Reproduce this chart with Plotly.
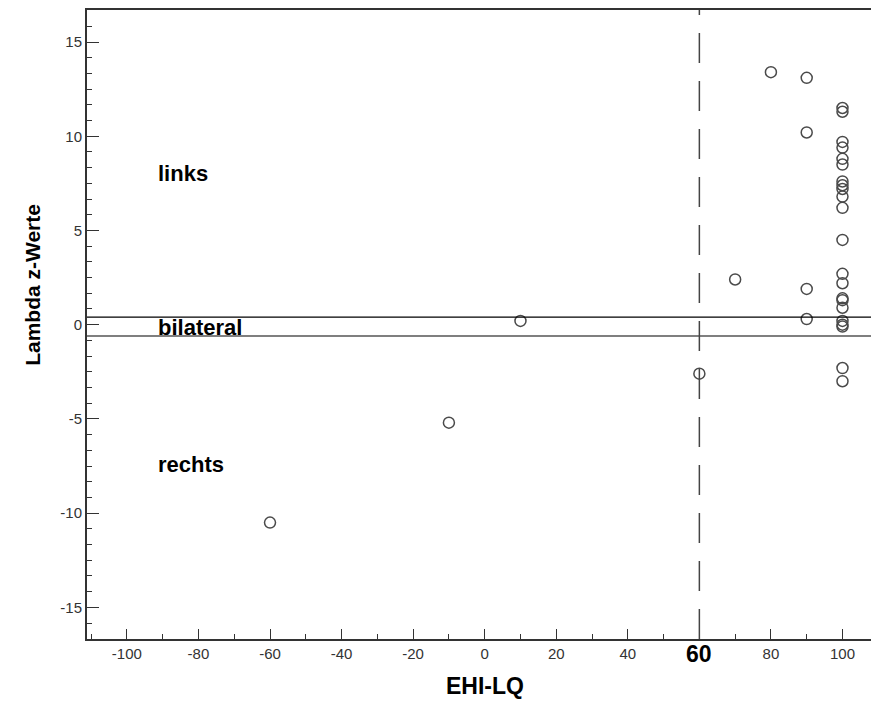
import plotly.graph_objects as go

# Data (EHI-LQ vs Lambda z-values)
ehi = [80, 90, 90, 90, 90, 70, 60, 10, -10, -60,
       100, 100, 100, 100, 100, 100, 100, 100, 100, 100, 100,
       100, 100, 100, 100, 100, 100, 100, 100, 100, 100, 100]
lam = [13.4, 13.1, 10.2, 1.9, 0.3, 2.4, -2.6, 0.2, -5.2, -10.5,
       11.5, 11.3, 9.7, 9.4, 8.8, 8.5, 7.6, 7.4, 7.2, 6.8, 6.2,
       4.5, 2.7, 2.2, 1.4, 1.3, 0.9, 0.2, 0.0, -0.1, -2.3, -3.0]

x_tickvals = [-100, -80, -60, -40, -20, 0, 20, 40, 60, 80, 100]
x_ticktext = ["-100", "-80", "-60", "-40", "-20", "0", "20", "40", "", "80", "100"]
y_tickvals = [-15, -10, -5, 0, 5, 10, 15]
y_ticktext = ["-15", "-10", "-5", "0", "5", "10", "15"]

bilateral_upper = 0.4
bilateral_lower = -0.6
cutoff = 60

region_labels = ["links", "bilateral", "rechts"]
region_label_y = [8.0, -0.15, -7.4]
region_label_x = -92

FONT = "Arial, Liberation Sans, sans-serif"

fig = go.Figure()
fig.add_trace(go.Scatter(
    x=ehi, y=lam, mode="markers",
    marker=dict(symbol="circle-open", size=11, color="#4a4a4a", line=dict(width=1.5, color="#4a4a4a")),
    showlegend=False, hoverinfo="x+y"))

fig.update_layout(
    width=871, height=712,
    margin=dict(l=87, r=0, t=10, b=73),
    paper_bgcolor="white", plot_bgcolor="white",
    font=dict(family=FONT, color="#222"),
    xaxis=dict(range=[-111.15, 107.97], showgrid=False, zeroline=False,
               tickvals=x_tickvals, ticktext=x_ticktext,
               ticks="inside", ticklen=10, tickwidth=1.2, tickcolor="#333",
               minor=dict(dtick=10, tick0=0, ticks="inside", ticklen=5, tickwidth=1.2, tickcolor="#333"),
               showline=True, linecolor="#333", linewidth=2, mirror=True,
               tickfont=dict(size=15, family=FONT, color="#333")),
    yaxis=dict(range=[-16.68, 16.7], showgrid=False, zeroline=False,
               tickvals=y_tickvals, ticktext=y_ticktext,
               ticks="inside", ticklen=12, tickwidth=1.2, tickcolor="#333",
               minor=dict(dtick=5/6, tick0=0, ticks="inside", ticklen=5, tickwidth=1.2, tickcolor="#333"),
               showline=True, linecolor="#333", linewidth=2,
               tickfont=dict(size=15, family=FONT, color="#333")),
)

# bilateral band lines
for yv in [bilateral_upper, bilateral_lower]:
    fig.add_shape(type="line", xref="paper", yref="y", x0=0, x1=1, y0=yv, y1=yv,
                  line=dict(color="black", width=1.2), layer="above")
# cutoff dashed line
fig.add_shape(type="line", xref="x", yref="paper", x0=cutoff, x1=cutoff, y0=0, y1=1,
              line=dict(color="#444", width=1.5, dash="30px,18px"), layer="above")

for t, yv in zip(region_labels, region_label_y):
    fig.add_annotation(x=region_label_x, y=yv, xref="x", yref="y", text="<b>" + t + "</b>",
                       showarrow=False, xanchor="left", yanchor="middle",
                       font=dict(size=22, family=FONT, color="black"))

fig.add_annotation(x=cutoff, y=-0.024, xref="x", yref="paper", text="<b>60</b>",
                   showarrow=False, xanchor="center", yanchor="middle",
                   font=dict(size=23, family=FONT, color="black"))

fig.add_annotation(x=0.508, y=-0.0747, xref="paper", yref="paper", text="<b>EHI-LQ</b>",
                   showarrow=False, xanchor="center", yanchor="middle",
                   font=dict(size=23, family=FONT, color="black"))
fig.add_annotation(x=-0.0689, y=0.563, xref="paper", yref="paper", text="<b>Lambda z-Werte</b>",
                   showarrow=False, xanchor="center", yanchor="middle", textangle=-90,
                   font=dict(size=21, family=FONT, color="black"))

fig.write_html("out.html")
